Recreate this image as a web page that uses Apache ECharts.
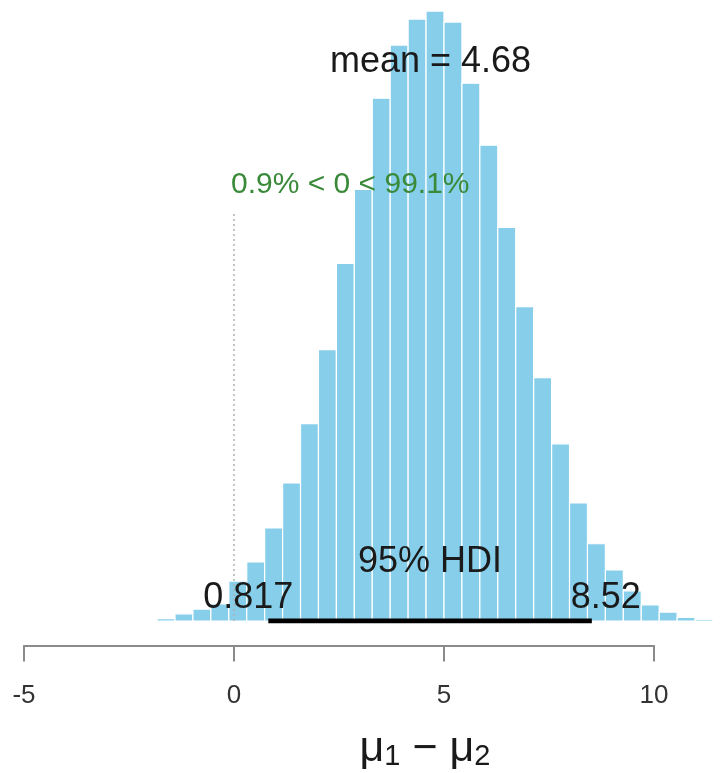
<!DOCTYPE html>
<html><head><meta charset="utf-8">
<script src="https://cdn.jsdelivr.net/npm/echarts@6/dist/echarts.min.js"></script>
<style>html,body{margin:0;padding:0;background:#fff}#c{width:724px;height:773px}</style>
</head><body><div id="c"></div>
<script>
// ---- data ----
const binLeft = [-1.832,-1.405,-0.978,-0.551,-0.124,0.303,0.730,1.157,1.584,2.011,2.438,2.865,3.292,3.719,4.146,4.573,5.000,5.427,5.854,6.281,6.708,7.135,7.562,7.989,8.416,8.843,9.270,9.697,10.124,10.551,10.978];
const binRight = [-1.405,-0.978,-0.551,-0.124,0.303,0.730,1.157,1.584,2.011,2.438,2.865,3.292,3.719,4.146,4.573,5.000,5.427,5.854,6.281,6.708,7.135,7.562,7.989,8.416,8.843,9.270,9.697,10.124,10.551,10.978,11.405];
const density = [0.0008,0.0024,0.0040,0.0057,0.0134,0.0198,0.0312,0.0463,0.0662,0.0910,0.1199,0.1447,0.1753,0.1931,0.2018,0.2045,0.2008,0.1803,0.1595,0.1320,0.1054,0.0816,0.0594,0.0396,0.0259,0.0171,0.0101,0.0054,0.0030,0.0012,0.0005];
const xTicks = [-5, 0, 5, 10];
const meanVal = 4.68;
const hdiLow = 0.817, hdiHigh = 8.52;
const compVal = 0;
const pctBelow = '0.9%', pctAbove = '99.1%';
const meanLabel = 'mean = 4.68';
const hdiLabel = '95% HDI';
const hdiLowLabel = '0.817', hdiHighLabel = '8.52';

const maxD = Math.max(...density);
const bars = binLeft.map((l, i) => [l, binRight[i], density[i]]);

const chart = echarts.init(document.getElementById('c'), null, {renderer: 'canvas'});
const FONT = '"Liberation Sans", Arial, Helvetica, sans-serif';

chart.setOption({
  animation: false,
  backgroundColor: '#ffffff',
  grid: [
    {left: 0, right: 0, top: 0, bottom: 152},
    {left: 24, width: 630, top: 600, height: 45.5}
  ],
  xAxis: [
    {gridIndex: 0, type: 'value', min: -5 - 24/42, max: -5 + 700/42, show: false},
    {gridIndex: 1, type: 'value', min: -5, max: 10, interval: 5,
     axisLine: {show: true, onZero: false, lineStyle: {color: '#8a8a8a', width: 2}},
     axisTick: {show: true, length: 16, lineStyle: {color: '#8a8a8a', width: 2}},
     axisLabel: {show: true, margin: 37, color: '#333333', fontSize: 26, fontFamily: FONT,
       customValues: xTicks},
     splitLine: {show: false}}
  ],
  yAxis: [
    {gridIndex: 0, type: 'value', min: 0, max: 0.2082, show: false},
    {gridIndex: 1, type: 'value', min: 0, max: 1, show: false}
  ],
  series: [
    {
      type: 'custom', xAxisIndex: 0, yAxisIndex: 0, data: bars,
      renderItem: function (params, api) {
        const p0 = api.coord([api.value(0), api.value(2)]);
        const p1 = api.coord([api.value(1), 0]);
        return {type: 'rect', shape: {x: p0[0], y: p0[1], width: p1[0] - p0[0], height: p1[1] - p0[1]},
          style: {fill: '#87CEEB', stroke: '#ffffff', lineWidth: 1.2}};
      },
      z: 2
    },
    {
      type: 'line', xAxisIndex: 0, yAxisIndex: 0, symbol: 'none', z: 3,
      data: [[compVal, 0], [compVal, 0.96 * 0.7 * maxD]],
      lineStyle: {color: '#b0b0b0', width: 1.5, type: [2, 3]}
    },
    {
      type: 'line', xAxisIndex: 0, yAxisIndex: 0, symbol: 'none', z: 4,
      data: [[hdiLow, 0], [hdiHigh, 0]],
      lineStyle: {color: '#000000', width: 5, cap: 'butt'}
    }
  ]
});

function px(x, y) { return chart.convertToPixel({xAxisIndex: 0, yAxisIndex: 0}, [x, y]); }
const pMean = px(meanVal, 0.9 * maxD);
const pComp = px(compVal, 0.7 * maxD);
const pHdiMid = px((hdiLow + hdiHigh) / 2, 0);
const pLo = px(hdiLow, 0);
const pHi = px(hdiHigh, 0);

const txt = (x, y, text, size, color, align) => ({
  type: 'text', x: x, y: y, z: 10,
  style: {text: text, fontSize: size, fontFamily: FONT, fill: color, align: align || 'center', verticalAlign: 'middle'}
});

chart.setOption({
  graphic: [
    txt(pMean[0], pMean[1] - 10, meanLabel, 36, '#1a1a1a'),
    txt(pComp[0] - 3, pComp[1] - 9, pctBelow + ' < ' + compVal + ' < ' + pctAbove, 30, '#3a8a3a', 'left'),
    txt(pHdiMid[0], pHdiMid[1] - 59, hdiLabel, 36, '#1a1a1a'),
    txt(pLo[0] - 20, pLo[1] - 23, hdiLowLabel, 36, '#1a1a1a'),
    txt(pHi[0] + 14, pHi[1] - 23, hdiHighLabel, 36, '#1a1a1a'),
    {
      type: 'text', x: 425, y: 748, z: 10,
      style: {
        text: '{m|μ}{s|1}{m| − μ}{s|2}',
        align: 'center', verticalAlign: 'middle', fill: '#1a1a1a', fontFamily: FONT,
        rich: {
          m: {fontSize: 43, fontFamily: FONT, fill: '#1a1a1a', lineHeight: 46, verticalAlign: 'bottom'},
          s: {fontSize: 29, fontFamily: FONT, fill: '#1a1a1a', lineHeight: 38, verticalAlign: 'bottom'}
        }
      }
    }
  ]
});
</script>
</body></html>
